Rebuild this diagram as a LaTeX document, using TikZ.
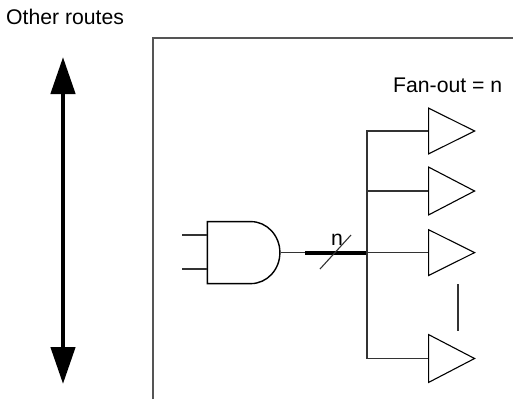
\documentclass[tikz,border=0pt]{standalone}
\usepackage{fontspec}
\setmainfont{Liberation Sans}
\usepackage{tikz}
\usetikzlibrary{arrows.meta,positioning,calc,shapes.geometric,shapes.gates.logic.US}
\definecolor{framegrey}{HTML}{555555}
\definecolor{wiregrey}{HTML}{333333}
\tikzset{
  label/.style={font=\fontsize{21.2}{24}\selectfont,inner sep=0pt,text=black},
  buffer/.style={draw=black,isosceles triangle,isosceles triangle apex angle=53,minimum height=46pt,inner sep=0pt,line width=1.1pt,anchor=west},
  tallbuffer/.style={buffer,isosceles triangle apex angle=55},
  gate/.style={draw=black,and gate US,logic gate inputs=nn,logic gate input sep=20.67pt,transform shape,xscale=.936,inner sep=0pt,line width=1.4pt},
  wire/.style={draw=wiregrey,line width=1.1pt},
  bus/.style={draw=black,line width=4pt},
  frameline/.style={draw=framegrey,line width=1.3pt},
  routes/.style={{Triangle[length=37pt,width=24pt]}-{Triangle[length=37pt,width=24pt]},line width=4.5pt}
}
\begin{document}
\begin{tikzpicture}[x=1pt,y=-1pt]
\useasboundingbox (0,0) rectangle (513,402);
\node[label,anchor=base west] (other) at (6,24) {Other routes};
\node[label,anchor=base west] (fanout) at (393,92) {Fan-out = n};
\node[label,anchor=base] (n) at (337,245) {n};
\coordinate (frametop) at (153,38);
\coordinate (frameend) at (153,399);
\coordinate (frameright) at (513,38);
\draw[frameline] (frameend)--(frametop)--(frameright);
\coordinate (up) at (63,57);
\coordinate (down) at (63,384);
\draw[routes] (up)--(down);
\node[gate] (andgate) at (241.2,252.6) {};
\coordinate (in1) at (182,235);
\coordinate (in2) at (182,269);
\draw[wire] (in1)--(in1-|andgate.input 1);
\draw[wire] (in2)--(in2-|andgate.input 2);
\coordinate (busstart) at (305,252.6);
\coordinate (fork) at (367,252.6);
\draw[wire] (andgate.output)--(busstart);
\draw[bus] (busstart)--(fork);
\coordinate (slasha) at (320,269);
\coordinate (slashb) at (351,235);
\draw[wire] (slasha)--(slashb);
\node[buffer] (b1) at (428,131) {};
\node[tallbuffer] (b2) at (428,191) {};
\node[buffer] (b3) at (428,252.6) {};
\node[tallbuffer] (b4) at (428,358.5) {};
\foreach \a in {b1,b2,b3,b4}\draw[wire] (fork)|-(\a.west);
\coordinate (dotsa) at (458,284);
\coordinate (dotsb) at (458,331);
\draw[wire] (dotsa)--(dotsb);
\end{tikzpicture}
\end{document}
